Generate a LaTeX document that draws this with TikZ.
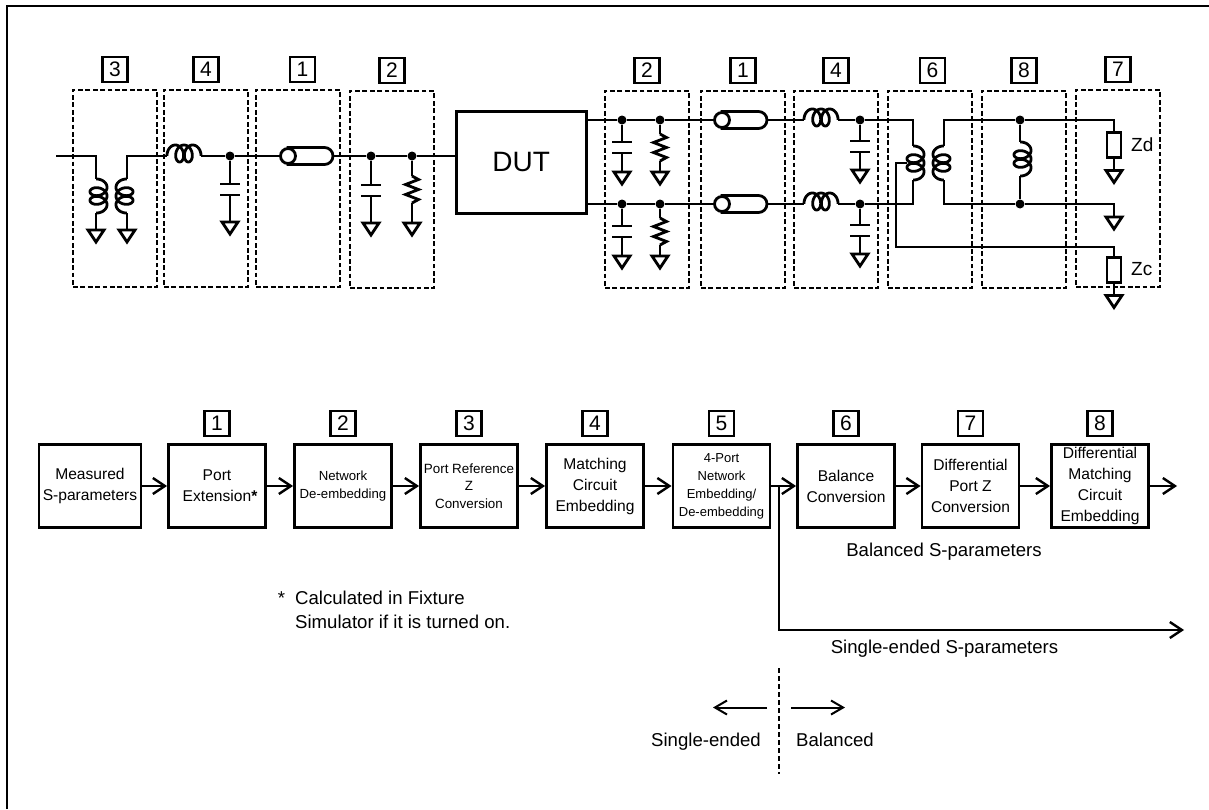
\documentclass[tikz,border=0pt]{standalone}
\usepackage{fontspec}
\setmainfont{Liberation Sans}
\usetikzlibrary{arrows.meta,positioning,calc}

\tikzset{
    x=1pt, y=-1pt,
    wire/.style={line width=2.8pt},
    flow/.style={line width=2.8pt, -{Straight Barb[length=12pt,width=16pt,line width=2.4pt]}},
    region/.style={draw, line width=2pt, dash pattern=on 4.8pt off 2.6pt, minimum width=84pt, minimum height=197pt, anchor=north west, inner sep=0pt},
    tag/.style={draw, line width=2.4pt, minimum size=25pt, inner sep=0pt, font=\fontsize{21}{21}\selectfont},
    block/.style={draw, line width=2.9pt, minimum width=97pt, minimum height=83pt, inner sep=0pt, align=center, font=\fontsize{15.6}{21}\selectfont},
    junction/.style={circle, fill=black, inner sep=0pt, minimum size=9pt},
    load/.style={draw, line width=2.5pt, fill=white, minimum width=14pt, minimum height=25pt, inner sep=0pt},
    caption/.style={inner sep=0pt, font=\fontsize{18.6}{24}\selectfont},
    pics/ground/.style={code={
        \draw[wire] (-8,0) -- (8,0) -- (0,12) -- cycle;
    }},
    pics/cap/.style={code={
        \draw[wire] (-10,0) -- (10,0) (-10,11) -- (10,11);
    }},
    pics/res/.style={code={
        \draw[wire, line join=miter] (0,0) -- (6.5,3.5) -- (-6.5,8.5) -- (6.5,13.5) -- (-6.5,18.5) -- (6.5,23.5) -- (0,27);
    }},
    pics/coil/.style={code={
        \draw[wire, variable=\t] plot[domain=253:1187, samples=140]
            ({(34-11.5)*(\t-720)/934+17+6*sin(\t)}, {-(-6+17*(1+cos(\t))/2)});
    }},
    pics/coax/.style={code={
        \draw[wire, fill=white] (7,-8.5) -- (43.5,-8.5) arc (90:-90:8.5pt) -- (7,8.5) -- cycle;
        \draw[wire, fill=white] (7,0) circle (7.5pt);
    }},
}

\begin{document}
\begin{tikzpicture}
        \useasboundingbox (1,1) rectangle (1210,810);

        % Outer frame, top and left only
        \coordinate (cornerA) at (8,810);
        \coordinate (cornerB) at (8,7);
        \coordinate (cornerC) at (1210,7);
        \draw[line width=2.5pt] (cornerA) -- (cornerB) -- (cornerC);

        % Dashed regions, left side
        \node[region] (regA) at (73,90) {};
        \node[region] (regB) at (164,90) {};
        \node[region] (regC) at (256,90) {};
        \node[region] (regD) at (350,91) {};

        % Dashed regions, right side
        \node[region] (regE) at (605,91) {};
        \node[region] (regF) at (701,91) {};
        \node[region] (regG) at (794,91) {};
        \node[region] (regH) at (888,91) {};
        \node[region] (regI) at (982,91) {};
        \node[region] (regJ) at (1076,90) {};

        % Number tags above the regions
        \node[tag, above=6pt of regA] (tagA) {3};
        \node[tag, above=6pt of regB] (tagB) {4};
        \node[tag, above=6pt of regC, xshift=4.5pt] (tagC) {1};
        \node[tag, above=6pt of regD] (tagD) {2};
        \node[tag, above=6pt of regE] (tagE) {2};
        \node[tag, above=6pt of regF] (tagF) {1};
        \node[tag, above=6pt of regG] (tagG) {4};
        \node[tag, above=6pt of regH, xshift=2.5pt] (tagH) {6};
        \node[tag, above=6pt of regI] (tagI) {8};
        \node[tag, above=6pt of regJ] (tagJ) {7};

        % DUT
        \node[draw, line width=2.5pt, minimum width=130pt, minimum height=102pt, anchor=north west, inner sep=0pt, font=\fontsize{28}{28}\selectfont] (dut) at (456,111) {DUT};
        \coordinate (dutL) at (dut.west |- 0,157);
        \coordinate (dutA) at (dut.east |- 0,121);
        \coordinate (dutB) at (dut.east |- 0,205);

        % Left chain
        \coordinate (inL) at (57,157);
        \coordinate (priA) at (97,157);
        \coordinate (secA) at (128,157);
        \coordinate (indA) at (168,157);
        \coordinate (indB) at (202,157);
        \node[junction] (dotA) at (231,157) {};
        \coordinate (coaxA) at (282,157);
        \node[junction] (dotB) at (372,157) {};
        \node[junction] (dotC) at (413,157) {};
        \draw[wire] (inL) -- (priA) -- ++(0,23) coordinate (priB);
        \draw[wire] (secA |- priB) coordinate (secB) -- (secA) -- (indA);
        \pic[rotate=-90] at (priB) {coil};
        \pic[rotate=-90, yscale=-1] at (secB) {coil};
        \draw[wire] (priB) ++(0,34) -- ++(0,17) coordinate (gndA);
        \draw[wire] (secB) ++(0,34) -- ++(0,17) coordinate (gndB);
        \pic at (gndA) {ground};
        \pic at (gndB) {ground};
        \pic at (indA) {coil};
        \draw[wire] (indB) -- (dotA) -- (coaxA);
        \pic at (coaxA) {coax};
        \draw[wire] (334,157) -- (dotB) -- (dotC) -- (dutL);
        % shunts
        \pic at (231,185) {cap};
        \draw[wire] (dotA) -- (231,185) (231,196) -- (231,223) coordinate (gndC);
        \pic at (gndC) {ground};
        \pic at (372,186) {cap};
        \draw[wire] (dotB) -- (372,186) (372,197) -- (372,224) coordinate (gndD);
        \pic at (gndD) {ground};
        \draw[wire] (dotC) -- (413,177) coordinate (resA) (413,204) -- (413,224) coordinate (gndE);
        \pic at (resA) {res};
        \pic at (gndE) {ground};

        % Right chain, upper and lower wire
        \foreach \name/\ypos in {up/121, lo/205} {
            \node[junction] (\name A) at (623,\ypos) {};
            \node[junction] (\name B) at (661,\ypos) {};
            \node[junction] (\name C) at (861,\ypos) {};
            \pic at (716,\ypos) {coax};
            \pic at (805,\ypos) {coil};
            \draw[wire] (\name A) -- (\name B) -- (716,\ypos);
            \draw[wire] (768,\ypos) -- (805,\ypos) (839,\ypos) -- (\name C);
            \pic at (623,\ypos+22) {cap};
            \draw[wire] (\name A) -- (623,\ypos+22) (623,\ypos+33) -- (623,\ypos+52) coordinate (\name G);
            \pic at (\name G) {ground};
            \draw[wire] (\name B) -- (661,\ypos+14) coordinate (\name R) (661,\ypos+41) -- (661,\ypos+52) coordinate (\name H);
            \pic at (\name R) {res};
            \pic at (\name H) {ground};
            \pic at (861,\ypos+21) {cap};
            \draw[wire] (\name C) -- (861,\ypos+21) (861,\ypos+32) -- (861,\ypos+50) coordinate (\name K);
            \pic at (\name K) {ground};
        }
        \draw[wire] (dutA) -- (upA);
        \draw[wire] (dutB) -- (loA);

        % Balun
        \coordinate (balA) at (914,147);
        \coordinate (balB) at (945,147);
        \node[junction] (dotD) at (1021,121) {};
        \node[junction] (dotE) at (1021,205) {};
        \node[load, anchor=north] (zd) at (1115,132) {};
        \node[load, anchor=north] (zc) at (1115,257) {};
        \node[inner sep=0pt, anchor=west, font=\fontsize{19}{19}\selectfont] (zdlabel) at (1132,146) {Zd};
        \node[inner sep=0pt, anchor=west, font=\fontsize{19}{19}\selectfont] (zclabel) at (1132,270) {Zc};
        \pic[rotate=-90] at (balA) {coil};
        \pic[rotate=-90, yscale=-1] at (balB) {coil};
        \draw[wire] (upC) -- (914,121) -- (balA);
        \draw[wire] (loC) -- (914,205) -- (914,181);
        \draw[wire] (zd.north) -- (1115,121) -- (dotD) -- (945,121) -- (balB);
        \draw[wire] (945,181) -- (945,205) -- (dotE) -- (1115,205) -- (1115,218) coordinate (gndF);
        \pic at (gndF) {ground};
        \draw[wire] (908,164) -- (897,164) -- (897,248) -- (1115,248) -- (zc.north);
        \draw[wire] (zd.south) -- ++(0,12) coordinate (gndG);
        \draw[wire] (zc.south) -- ++(0,12) coordinate (gndH);
        \pic at (gndG) {ground};
        \pic at (gndH) {ground};
        % Shunt coil
        \pic[rotate=-90] at (1021,143) {coil};
        \draw[wire] (dotD) -- (1021,143) (1021,177) -- (dotE);

        % Flow chart blocks
        \node[block, minimum width=102pt] (meas) at (91,487) {Measured\\S-parameters};
        \node[block] (ext) at (218,487) {Port\\Extension\rlap{\textbf{*}}};
        \node[block, font=\fontsize{13.2}{18}\selectfont] (net) at (344,487) {Network\\De-embedding};
        \node[block, font=\fontsize{13.4}{17.5}\selectfont] (ref) at (470,487) {Port Reference\\Z\\Conversion};
        \node[block] (mat) at (596,487) {Matching\\Circuit\\Embedding};
        \node[block, font=\fontsize{13}{18}\selectfont] (four) at (722.5,487) {4-Port\\Network\\Embedding/\\De-embedding};
        \node[block] (bal) at (847,487) {Balance\\Conversion};
        \node[block] (dpz) at (971.5,487) {Differential\\Port Z\\Conversion};
        \node[block] (dmc) at (1101,487) {Differential\\Matching\\Circuit\\Embedding};

        % Tags above the blocks
        \node[tag, above=6pt of ext] (tagext) {1};
        \node[tag, above=6pt of net] (tagnet) {2};
        \node[tag, above=6pt of ref] (tagref) {3};
        \node[tag, above=6pt of mat] (tagmat) {4};
        \node[tag, above=6pt of four] (tagfour) {5};
        \node[tag, above=6pt of bal] (tagbal) {6};
        \node[tag, above=6pt of dpz] (tagdpz) {7};
        \node[tag, above=6pt of dmc] (tagdmc) {8};

        % Flow arrows
        \foreach \from/\to in {meas/ext, ext/net, net/ref, ref/mat, mat/four, four/bal, bal/dpz, dpz/dmc} {
            \draw[flow] (\from) -- (\to);
        }
        \coordinate (outA) at (1178,487);
        \coordinate (branch) at (780,487);
        \coordinate (outB) at (1185,631);
        \draw[flow] (dmc) -- (outA);
        \draw[flow] (branch) |- (outB);

        % Labels
        \node[caption] (lblbal) at (945,553) {Balanced S-parameters};
        \node[caption] (lblse) at (945.5,650) {Single-ended S-parameters};
        \node[caption, anchor=north west, align=left] (note) at (296,592) {\llap{*\hspace{10pt}}Calculated in Fixture\\Simulator if it is turned on.};

        % Boundary at the bottom
        \coordinate (divA) at (780,669);
        \coordinate (divB) at (780,775);
        \draw[line width=2.2pt, dash pattern=on 5pt off 3pt] (divA) -- (divB);
        \coordinate (divL) at (768,708.5);
        \coordinate (divR) at (792,708.5);
        \draw[line width=2pt, -{Straight Barb[length=12pt,width=14pt,line width=2pt]}] (divL) -- ++(-54,0);
        \draw[line width=2pt, -{Straight Barb[length=12pt,width=14pt,line width=2pt]}] (divR) -- ++(54,0);
        \node[caption, anchor=base west] (lblleft) at (652,747) {Single-ended};
        \node[caption, anchor=base west] (lblright) at (797,747) {Balanced};
\end{tikzpicture}
\end{document}
